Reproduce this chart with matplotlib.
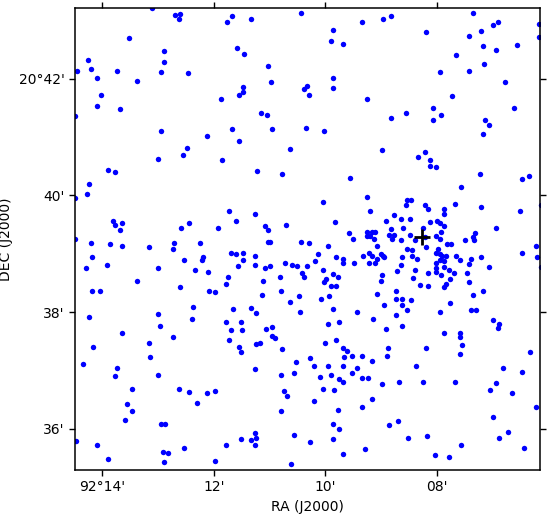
import numpy as np
import matplotlib
matplotlib.use("Agg")
import matplotlib.pyplot as plt

# source positions, arcmin past RA 92 deg / DEC 20 deg
ra_north = [13.10, 12.69, 12.60, 12.62, 11.67, 11.76, 13.53, 12.89, 12.89, 14.25,
            14.21, 14.45, 13.73, 12.94, 12.46, 14.09, 13.37, 14.02, 14.09, 13.68,
            11.87, 14.49, 12.94, 11.67, 12.12, 12.48, 12.55, 13.00, 11.85,
            11.33, 10.43, 9.35, 8.97, 9.87, 9.89, 9.69, 11.58, 11.45, 11.02,
            10.97, 9.87, 11.47, 11.47, 11.54, 10.38, 10.32, 10.30, 9.86, 9.26,
            11.15, 11.04, 10.95, 10.34, 10.02, 11.54, 10.63, 8.98,
            8.83, 7.36, 8.19, 7.43, 7.20, 6.99, 6.90, 7.18, 6.93, 6.56,
            6.17, 6.16, 7.66, 7.94, 7.42, 7.15, 6.77, 7.72, 8.06, 6.61,
            8.83, 8.55, 8.06, 7.92, 7.13, 7.06, 7.17, 8.33, 8.22, 8.12]
dec_north = [43.22, 43.09, 43.11, 43.02, 43.08, 42.98, 42.69, 42.48, 42.28, 42.32,
             42.16, 42.13, 42.13, 42.11, 42.09, 42.02, 41.96, 41.72, 41.53, 41.48,
             41.65, 41.36, 41.10, 41.13, 41.01, 40.82, 40.70, 40.62, 40.60,
             43.02, 43.12, 42.98, 43.02, 42.83, 42.64, 42.59, 42.52, 42.42, 42.21,
             41.94, 42.02, 41.85, 41.78, 41.72, 41.82, 41.87, 41.72, 41.84, 41.66,
             41.41, 41.37, 41.13, 41.15, 41.10, 40.93, 40.79, 40.77,
             43.08, 43.12, 42.80, 42.73, 42.81, 42.92, 42.97, 42.56, 42.49, 42.57,
             42.93, 42.71, 42.40, 42.11, 42.14, 42.25, 41.94, 41.70, 41.49, 41.49,
             41.32, 41.41, 41.30, 41.37, 41.30, 41.20, 41.06, 40.65, 40.74, 40.60]

ra_mid = [13.89, 13.78, 14.23, 14.27, 14.49, 13.80, 13.77, 13.64, 13.69, 14.49,
          14.21, 13.86, 13.64, 14.18, 14.30, 13.91, 13.16, 12.71, 12.74, 13.00,
          12.53, 12.58, 12.44, 12.24, 12.19, 12.21, 12.33, 12.10, 11.92, 11.72,
          11.69, 11.74, 11.79, 14.18, 14.05, 13.37, 12.60, 12.08, 11.97, 12.37,
          14.23, 13.01, 12.40,
          11.22, 10.77, 9.55, 9.26, 10.04, 9.19, 11.26, 11.61, 10.70, 9.82,
          8.91, 11.09, 11.02, 11.02, 10.99, 10.43, 10.29, 9.57, 9.50, 9.25,
          9.17, 9.10, 9.26, 9.19, 9.12, 9.95, 9.07, 11.61, 11.47, 11.47,
          11.26, 11.27, 11.56, 11.09, 11.00, 10.72, 10.59, 10.50, 10.32, 10.18,
          10.13, 9.80, 9.68, 9.68, 9.48, 9.32, 9.21, 9.16, 9.21, 9.10,
          9.07, 9.01, 8.96, 8.94, 10.81, 10.41, 10.38, 10.05, 9.98, 10.02,
          9.86, 9.77, 9.89, 9.80, 11.11, 10.79, 11.13, 10.47, 10.63, 10.45,
          10.07, 9.93, 9.87, 9.43, 8.98, 9.00, 9.08, 8.94, 11.65, 11.33,
          11.24, 9.14,
          8.12, 8.01, 7.22, 6.47, 6.34, 7.56, 8.53, 8.46, 8.56, 8.22,
          8.15, 7.87, 7.87, 7.67, 7.20, 6.50, 6.14, 8.76, 8.65, 8.49,
          7.99, 7.95, 7.87, 8.13, 8.83, 8.60, 6.93, 8.85, 8.76, 8.80,
          8.64, 8.49, 8.24, 8.39, 8.21, 7.92, 8.01, 7.94, 7.81, 7.74,
          8.19, 8.53, 8.44, 8.62, 8.44, 8.35, 7.97, 8.01, 7.94, 7.90,
          7.83, 8.01, 7.94, 7.87, 7.65, 7.58, 7.49, 7.36, 7.33, 7.31,
          7.38, 7.43, 7.20, 7.06, 6.48, 6.22, 6.20, 6.14, 8.65, 8.71,
          8.40, 8.15, 8.01, 8.01, 7.87, 7.79, 7.92, 7.70, 7.76, 7.45,
          7.43, 8.42, 8.30, 8.15, 7.87, 7.83, 8.73, 7.35, 7.18, 8.74,
          8.62, 8.46, 8.62, 8.53, 7.76, 7.95, 7.38, 7.29, 8.73, 6.99]
dec_mid = [40.43, 40.40, 40.19, 40.02, 39.95, 39.56, 39.49, 39.52, 39.40, 39.25,
           39.18, 39.16, 39.13, 38.94, 38.75, 38.80, 39.11, 39.18, 39.09, 38.75,
           38.89, 39.44, 39.52, 39.18, 38.94, 38.89, 38.73, 38.68, 39.44, 39.73,
           39.01, 38.60, 38.49, 38.37, 38.36, 38.53, 38.43, 38.37, 38.34, 38.08,
           37.91, 37.96, 37.89,
           40.41, 40.36, 40.29, 39.98, 39.88, 39.73, 39.68, 39.57, 39.50, 39.54,
           39.56, 39.47, 39.40, 39.21, 39.21, 39.20, 39.18, 39.35, 39.25, 39.37,
           39.38, 39.37, 39.30, 39.30, 39.26, 39.13, 39.13, 38.99, 39.01, 38.89,
           38.96, 38.80, 38.79, 38.75, 38.79, 38.84, 38.80, 38.79, 38.79, 38.87,
           38.99, 38.94, 38.91, 38.84, 38.84, 38.97, 39.01, 38.97, 38.85, 38.84,
           38.91, 38.99, 38.97, 38.94, 38.60, 38.67, 38.60, 38.72, 38.56, 38.51,
           38.65, 38.60, 38.44, 38.44, 38.53, 38.36, 38.29, 38.27, 38.17, 38.01,
           38.22, 38.27, 38.05, 38.00, 38.63, 38.53, 38.31, 38.13, 38.05, 38.07,
           37.98, 37.88,
           40.50, 40.48, 40.36, 40.28, 40.33, 40.14, 39.93, 39.93, 39.83, 39.83,
           39.76, 39.76, 39.69, 39.86, 39.80, 39.73, 39.83, 39.66, 39.59, 39.59,
           39.57, 39.52, 39.47, 39.54, 39.42, 39.45, 39.44, 39.32, 39.32, 39.25,
           39.23, 39.33, 39.45, 39.23, 39.28, 39.37, 39.30, 39.25, 39.16, 39.16,
           39.11, 39.09, 39.06, 38.94, 38.96, 38.91, 39.08, 39.02, 38.99, 38.96,
           38.97, 38.85, 38.89, 38.87, 38.97, 38.89, 39.23, 39.28, 39.23, 39.35,
           38.91, 38.82, 38.94, 38.77, 39.02, 39.14, 38.94, 38.77, 38.80, 38.70,
           38.73, 38.67, 38.75, 38.68, 38.77, 38.73, 38.63, 38.67, 38.56, 38.67,
           38.51, 38.58, 38.46, 38.44, 38.43, 38.48, 38.37, 38.29, 38.36, 38.22,
           38.22, 38.20, 38.12, 38.03, 38.15, 38.00, 38.03, 38.03, 37.95, 37.86]

ra_south = [11.79, 11.69, 11.72, 12.96, 13.64, 12.73, 13.17, 14.16, 13.14, 14.34,
            13.73, 13.77, 13.01, 13.46, 12.62, 12.44, 12.12, 11.97, 12.30, 13.55,
            13.46, 13.59, 12.94, 12.87, 14.48, 14.09, 12.53, 11.78, 12.91, 12.83,
            13.89, 12.89, 11.97,
            11.51, 9.95, 9.75, 11.49, 11.06, 10.95, 10.95, 10.90, 8.91, 9.80,
            10.00, 11.24, 11.17, 11.54, 11.52, 10.77, 9.68, 9.62, 8.87, 9.66,
            9.53, 9.34, 8.89, 9.16, 10.52, 10.27, 10.21, 9.95, 9.68, 9.44,
            11.27, 10.56, 10.79, 9.89, 9.53, 10.09, 9.75, 9.69, 9.35, 9.23,
            8.98, 10.05, 9.84, 10.74, 10.68, 10.20, 9.16, 10.79, 9.78, 9.34,
            9.87, 9.75, 8.85, 11.52, 11.26, 11.24, 11.34, 11.27, 10.56, 10.27,
            9.86, 9.28, 9.68, 10.61,
            8.62, 7.88, 7.58, 7.58, 7.54, 7.58, 6.88, 6.90, 8.19, 8.37,
            6.33, 6.81, 6.47, 8.67, 8.24, 7.67, 6.93, 7.04, 6.66, 6.23,
            6.99, 8.69, 8.51, 8.17, 6.88, 6.72, 7.56, 6.43, 8.04, 7.78]
dec_south = [37.83, 37.69, 37.53, 37.77, 37.64, 37.57, 37.47, 37.41, 37.23, 37.11,
             37.05, 36.90, 36.92, 36.69, 36.68, 36.63, 36.61, 36.64, 36.44, 36.42,
             36.30, 36.15, 36.08, 36.08, 35.79, 35.73, 35.67, 35.72, 35.60, 35.58,
             35.48, 35.43, 35.44,
             37.83, 37.79, 37.83, 37.69, 37.71, 37.74, 37.59, 37.55, 37.71, 37.53,
             37.47, 37.45, 37.47, 37.40, 37.31, 37.36, 37.38, 37.33, 37.38, 37.23,
             37.24, 37.24, 37.24, 37.17, 37.14, 37.21, 37.07, 37.07, 37.07, 37.04,
             37.02, 36.95, 36.92, 36.93, 36.95, 36.88, 36.85, 36.81, 36.87, 36.87,
             36.76, 36.68, 36.66, 36.64, 36.57, 36.47, 36.51, 36.30, 36.32, 36.37,
             36.08, 35.99, 36.06, 35.82, 35.92, 35.84, 35.80, 35.72, 35.89, 35.77,
             35.82, 35.65, 35.56, 35.39,
             37.76, 37.65, 37.65, 37.57, 37.43, 37.29, 37.79, 37.72, 37.38, 37.07,
             37.31, 37.05, 36.97, 36.81, 36.80, 36.80, 36.78, 36.66, 36.61, 36.37,
             36.21, 36.13, 35.85, 35.87, 35.84, 35.94, 35.72, 35.67, 35.55, 35.51]

# target position (arcmin)
target_ra = 8.27
target_dec = 39.28

ra_ticks = [14, 12, 10, 8]
ra_labels = ["92\u00b014'", "12'", "10'", "08'"]
dec_ticks = [42, 40, 38, 36]
dec_labels = ["20\u00b042'", "40'", "38'", "36'"]


def to_ra(m):
    return 92.0 + np.asarray(m) / 60.0


def to_dec(m):
    return 20.0 + np.asarray(m) / 60.0


fig = plt.figure(figsize=(5.47, 5.16), dpi=100)
ax = fig.add_axes([75 / 547, 46 / 516, 465.3 / 547, 461.7 / 516])

for ra, dec in [(ra_north, dec_north), (ra_mid, dec_mid), (ra_south, dec_south)]:
    ax.plot(to_ra(ra), to_dec(dec), 'o', color='blue', ms=3.9, mew=0)

ax.plot(to_ra(target_ra), to_dec(target_dec), '+', color='black', ms=11, mew=2)

ax.set_xlim(to_ra(14.49), to_ra(6.144))
ax.set_ylim(to_dec(35.294), to_dec(43.207))

ax.set_xticks(to_ra(ra_ticks))
ax.set_xticklabels(ra_labels)
ax.set_yticks(to_dec(dec_ticks))
ax.set_yticklabels(dec_labels)
ax.tick_params(direction='out', top=True, right=True, length=4, width=1, labelsize=10)
for s in ax.spines.values():
    s.set_linewidth(1.1)

ax.set_xlabel("RA (J2000)", fontsize=10)
ax.set_ylabel("DEC (J2000)", fontsize=10)

fig.savefig("out.png", dpi=100)
